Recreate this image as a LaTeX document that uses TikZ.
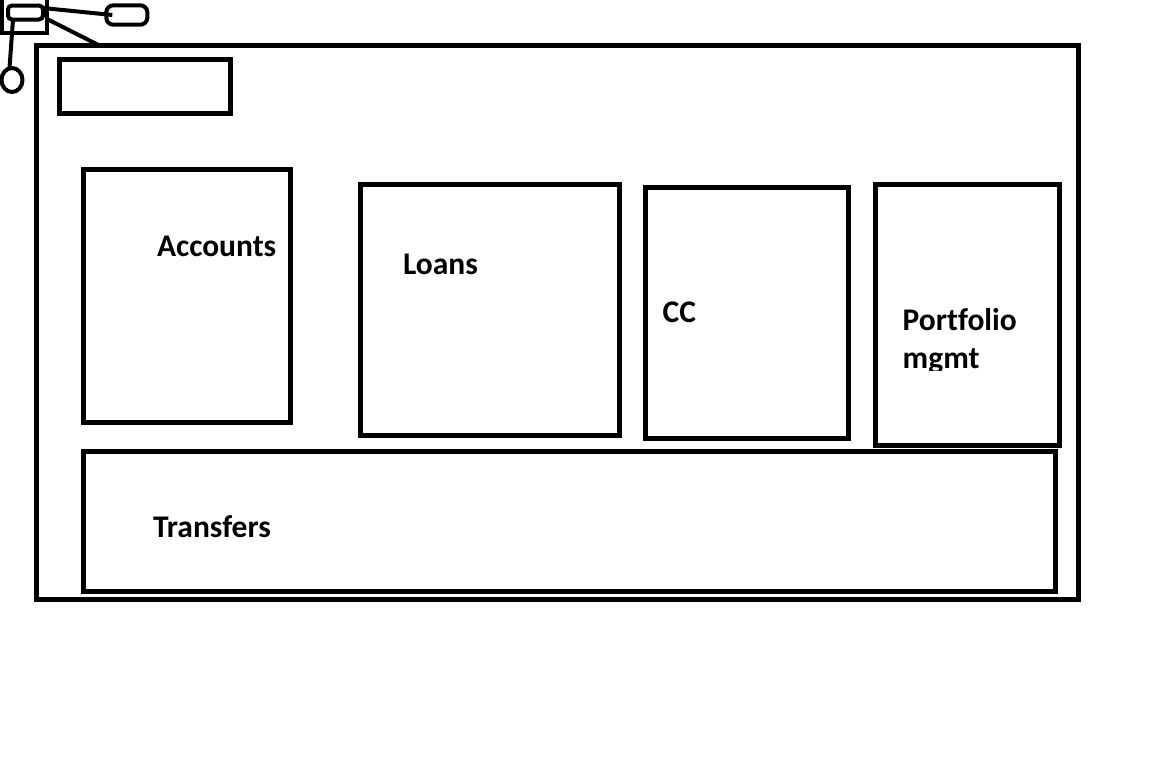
\documentclass[tikz,border=0pt]{standalone}
\usepackage{fontspec}
\setmainfont{Carlito}[Ligatures=NoCommon]
\usetikzlibrary{shapes.geometric}
\tikzset{
  box/.style={draw=black, line width=5pt, rectangle, inner sep=0pt, outer sep=0pt},
  smallbox/.style={draw=black, line width=4pt, rectangle, inner sep=0pt, outer sep=0pt},
  lbl/.style={anchor=base west, inner sep=0pt, outer sep=0pt, font=\fontsize{31.5}{38}\selectfont\bfseries, align=left},
  wire/.style={draw=black, line width=4pt},
}
\begin{document}
\begin{tikzpicture}[x=1pt, y=-1pt]
\useasboundingbox[fill=white] (0,0) rectangle (1151,756);
% main window
\node[box, minimum width=1041.7pt, minimum height=553.7pt] (main) at (557.35,322.65) {};
\node[box, minimum width=170.4pt, minimum height=53.4pt] (header) at (145,86.5) {};
\node[box, minimum width=207.3pt, minimum height=252.2pt] (accounts) at (187.15,295.9) {};
\node[box, minimum width=259.2pt, minimum height=250.5pt] (loans) at (489.6,309.75) {};
\node[box, minimum width=202.4pt, minimum height=250.5pt] (cc) at (747,312.75) {};
\node[box, minimum width=183.4pt, minimum height=261pt] (portfolio) at (967.5,314.5) {};
\node[box, minimum width=971.5pt, minimum height=140pt] (transfers) at (569.25,521.5) {};
% labels
\node[lbl] (tacc) at (157,256.7) {Accounts};
\node[lbl] (tloans) at (403,274) {Loans};
\node[lbl] (tcc) at (662.7,322.3) {CC};
\begin{scope}
  \clip (850,0) rectangle (1151,370.5);
  \node[lbl] (tport) at (902.7,368) {Portfolio\\mgmt};
\end{scope}
\node[lbl] (ttrans) at (153,537) {Transfers};
% top-left widget
\node[smallbox, minimum width=45pt, minimum height=36pt] (sq) at (24.5,15) {};
\node[smallbox, rounded corners=4pt, minimum width=35pt, minimum height=14pt] (ir) at (25.5,12.5) {};
\node[smallbox, rounded corners=7pt, minimum width=41pt, minimum height=19.4pt] (rr) at (126.8,15) {};
\node[draw=black, line width=4pt, ellipse, inner sep=0pt, outer sep=0pt, minimum width=21pt, minimum height=24pt] (ci) at (12,80) {};
\draw[wire] ([yshift=4.5pt]ir.east) -- ([xshift=6pt]rr.west);
\draw[wire] ([yshift=-4pt]sq.east) -- ([xshift=63.5pt]main.north west);
\draw[wire] ([xshift=5pt]ir.south west) -- ([xshift=-2.5pt]ci.north);
\end{tikzpicture}
\end{document}
